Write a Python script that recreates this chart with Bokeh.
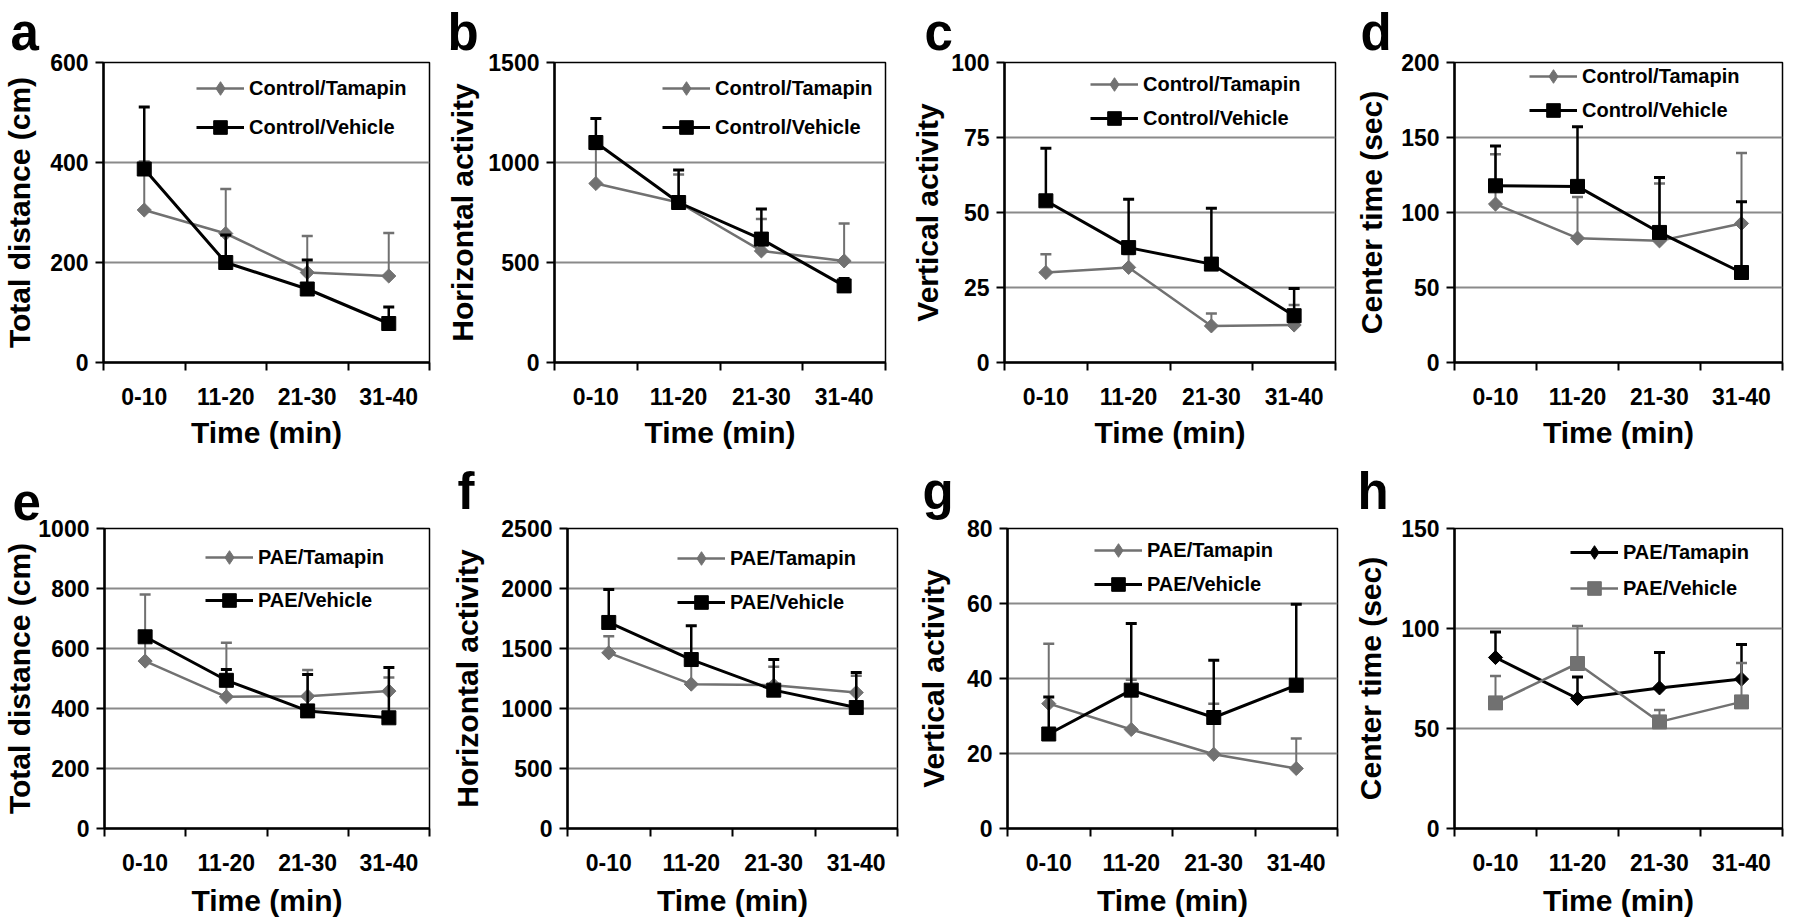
import math
from bokeh.plotting import figure
from bokeh.models import FixedTicker, Legend, LegendItem, Range1d
from bokeh.layouts import row, column
from bokeh.embed import file_html
from bokeh.resources import INLINE

# ---------------- data ----------------
categories = ["0-10", "11-20", "21-30", "31-40"]

# a: Control, total distance (cm)
a_tam = [305, 258, 180, 173]
a_tam_sem = [97, 89, 73, 86]
a_veh = [387, 200, 147, 78]
a_veh_sem = [124, 55, 58, 33]

# b: Control, horizontal activity
b_tam = [895, 800, 558, 508]
b_tam_sem = [172, 140, 159, 187]
b_veh = [1100, 800, 617, 383]
b_veh_sem = [120, 162, 150, 37]

# c: Control, vertical activity
c_tam = [30.0, 31.7, 12.2, 12.5]
c_tam_sem = [6.1, 4.5, 4.1, 6.7]
c_veh = [53.9, 38.3, 32.8, 15.6]
c_veh_sem = [17.5, 16.1, 18.6, 9.1]

# d: Control, center time (sec)
d_tam = [105.6, 82.9, 81.1, 92.7]
d_tam_sem = [33.3, 27.5, 38.2, 46.9]
d_veh = [117.8, 117.4, 86.7, 60.0]
d_veh_sem = [26.6, 39.7, 36.6, 47.1]

# e: PAE, total distance (cm)
e_tam = [558, 439, 441, 458]
e_tam_sem = [222, 180, 87, 45]
e_veh = [639, 494, 392, 369]
e_veh_sem = [12, 36, 121, 168]

# f: PAE, horizontal activity
f_tam = [1464, 1203, 1194, 1133]
f_tam_sem = [139, 190, 153, 140]
f_veh = [1717, 1408, 1153, 1008]
f_veh_sem = [275, 281, 255, 292]

# g: PAE, vertical activity
g_tam = [33.3, 26.4, 19.8, 16.0]
g_tam_sem = [16.0, 13.3, 13.5, 8.0]
g_veh = [25.2, 36.9, 29.6, 38.2]
g_veh_sem = [9.9, 17.8, 15.3, 21.6]

# h: PAE, center time (sec)
h_tam = [85.5, 65.0, 70.3, 74.7]
h_tam_sem = [12.8, 10.8, 17.7, 17.3]
h_veh = [62.8, 82.5, 53.3, 63.3]
h_veh_sem = [13.4, 18.8, 6.0, 19.5]

y_titles = ["Total distance (cm)", "Horizontal activity", "Vertical activity", "Center time (sec)"]
y_ticks_top = [[0, 200, 400, 600], [0, 500, 1000, 1500], [0, 25, 50, 75, 100], [0, 50, 100, 150, 200]]
y_ticks_bot = [[0, 200, 400, 600, 800, 1000], [0, 500, 1000, 1500, 2000, 2500],
               [0, 20, 40, 60, 80], [0, 50, 100, 150]]
x_title = "Time (min)"

# ---------------- styling ----------------
FONT = "Liberation Sans"
GRAY = "#717171"
BLACK = "#000000"
GRID = "#8a8a8a"


def make_panel(letter, ylabel, yticks, tam, tam_sem, veh, veh_sem, names, colors, markers,
               width, height, bl, br, bt, bb, ylab_standoff, xlab_standoff, xtick_standoff,
               leg_x, leg_y, leg_sp, let_dx, let_standoff):
    p = figure(width=width, height=height, output_backend="svg", toolbar_location=None,
               x_range=Range1d(0, len(categories)), y_range=Range1d(yticks[0], yticks[-1]),
               min_border_left=bl, min_border_right=br, min_border_top=bt, min_border_bottom=bb)
    p.background_fill_color = "white"
    p.border_fill_color = "white"
    p.outline_line_color = "black"
    p.outline_line_width = 1.5

    # panel letter
    p.title.text = letter
    p.title.align = "left"
    p.title.vertical_align = "top"
    p.title.offset = let_dx
    p.title.standoff = let_standoff
    p.title.text_font = FONT
    p.title.text_font_style = "bold"
    p.title.text_font_size = "51px"
    p.title.text_color = "black"

    xs = [i + 0.5 for i in range(len(categories))]

    # axes
    xa = p.xaxis[0]
    xa.ticker = FixedTicker(ticks=xs, minor_ticks=list(range(len(categories) + 1)))
    xa.major_label_overrides = {x: c for x, c in zip(xs, categories)}
    xa.major_tick_out = 0
    xa.major_tick_in = 0
    xa.minor_tick_out = 8
    xa.minor_tick_in = 0
    xa.minor_tick_line_color = "black"
    xa.minor_tick_line_width = 2
    xa.axis_line_width = 2.5
    xa.axis_line_color = "black"
    xa.major_label_text_font = FONT
    xa.major_label_text_font_style = "bold"
    xa.major_label_text_font_size = "23px"
    xa.major_label_text_color = "black"
    xa.major_label_standoff = xtick_standoff
    xa.axis_label = x_title
    xa.axis_label_text_font = FONT
    xa.axis_label_text_font_style = "bold"
    xa.axis_label_text_font_size = "30px"
    xa.axis_label_text_color = "black"
    xa.axis_label_standoff = xlab_standoff

    ya = p.yaxis[0]
    ya.ticker = FixedTicker(ticks=yticks, minor_ticks=[])
    ya.major_tick_out = 8
    ya.major_tick_in = 0
    ya.major_tick_line_width = 2
    ya.major_tick_line_color = "black"
    ya.axis_line_width = 2.5
    ya.axis_line_color = "black"
    ya.major_label_text_font = FONT
    ya.major_label_text_font_style = "bold"
    ya.major_label_text_font_size = "23px"
    ya.major_label_text_color = "black"
    ya.major_label_standoff = 7
    ya.axis_label = ylabel
    ya.axis_label_text_font = FONT
    ya.axis_label_text_font_style = "bold"
    ya.axis_label_text_font_size = "30px"
    ya.axis_label_text_color = "black"
    ya.axis_label_standoff = ylab_standoff

    p.xgrid.visible = False
    p.ygrid.ticker = FixedTicker(ticks=yticks[1:-1])
    p.ygrid.grid_line_color = GRID
    p.ygrid.grid_line_width = 2

    items = []
    series = [(tam, tam_sem, colors[0], markers[0], names[0]),
              (veh, veh_sem, colors[1], markers[1], names[1])]
    for vals, sem, col, mk, name in series:
        top = [v + s for v, s in zip(vals, sem)]
        lw = 2.5 if col == BLACK else 2
        p.segment(x0=xs, y0=vals, x1=xs, y1=top, line_color=col, line_width=lw)
        p.scatter(x=xs, y=top, marker="dash", size=11, line_color=col, line_width=lw + 0.5)
        ln = p.line(x=xs, y=vals, line_color=col, line_width=lw + 0.5)
        if mk == "diamond":
            # diamond symbol used by the legend (sits inside the rotated square below)
            sym = p.scatter(x=xs, y=vals, marker="diamond", size=12, fill_color=col,
                            line_color=col, line_width=1)
            p.scatter(x=xs, y=vals, marker="square", angle=math.pi / 4, size=10,
                      fill_color=col, line_color=col, line_width=1)
        else:
            sym = p.scatter(x=xs, y=vals, marker="square", size=14,
                            fill_color=col, line_color=col, line_width=1)
        items.append(LegendItem(label=name, renderers=[ln, sym]))

    leg = Legend(items=items, location=(leg_x, leg_y), orientation="vertical",
                 spacing=leg_sp, padding=0, margin=0, glyph_width=48, glyph_height=34,
                 label_height=34, label_standoff=5, label_text_font=FONT,
                 label_text_font_style="bold", label_text_font_size="20px",
                 label_text_color="black", border_line_color=None,
                 background_fill_alpha=0)
    p.add_layout(leg)
    return p


top_names = ["Control/Tamapin", "Control/Vehicle"]
bot_names = ["PAE/Tamapin", "PAE/Vehicle"]
gb = [GRAY, BLACK]
bg = [BLACK, GRAY]
mk = ["diamond", "square"]

TH, TBT, TBB = 452, 62, 90      # top row: height, border top, border bottom
BH, BBT, BBB = 467, 76, 91      # bottom row
TS, BS = 0, 14                  # title standoff per row

pa = make_panel("a", y_titles[0], y_ticks_top[0], a_tam, a_tam_sem, a_veh, a_veh_sem, top_names, gb, mk,
                440, TH, 99, 11, TBT, TBB, 11, 8, 17, 93, 218, 5, -93, TS)
pb = make_panel("b", y_titles[1], y_ticks_top[1], b_tam, b_tam_sem, b_veh, b_veh_sem, top_names, gb, mk,
                450, TH, 114, 5, TBT, TBB, 6, 8, 17, 108, 218, 5, -107, TS)
pc = make_panel("c", y_titles[2], y_ticks_top[2], c_tam, c_tam_sem, c_veh, c_veh_sem, top_names, gb, mk,
                450, TH, 114, 5, TBT, TBB, 4, 8, 17, 86, 227, 0, -80, TS)
pd = make_panel("d", y_titles[3], y_ticks_top[3], d_tam, d_tam_sem, d_veh, d_veh_sem, top_names, gb, mk,
                444, TH, 114, 2, TBT, TBB, 10, 8, 17, 75, 235, 0, -94, TS)
pe = make_panel("e", y_titles[0], y_ticks_bot[0], e_tam, e_tam_sem, e_veh, e_veh_sem, bot_names, gb, mk,
                440, BH, 99, 11, BBT, BBB, -1, 10, 17, 101, 211, 9, -92, BS)
pf = make_panel("f", y_titles[1], y_ticks_bot[1], f_tam, f_tam_sem, f_veh, f_veh_sem, bot_names, gb, mk,
                459, BH, 127, 2, BBT, BBB, 14, 10, 17, 110, 209, 10, -110, BS)
pg = make_panel("g", y_titles[2], y_ticks_bot[2], g_tam, g_tam_sem, g_veh, g_veh_sem, bot_names, gb, mk,
                443, BH, 108, 5, BBT, BBB, 14, 10, 17, 87, 227, 0, -85, BS)
ph = make_panel("h", y_titles[3], y_ticks_bot[3], h_tam, h_tam_sem, h_veh, h_veh_sem, bot_names, bg, mk,
                442, BH, 112, 2, BBT, BBB, 11, 10, 17, 116, 223, 2, -97, BS)

layout = column(row(pa, pb, pc, pd, spacing=0), row(pe, pf, pg, ph, spacing=0), spacing=0)

open("out.html", "w").write(file_html(layout, INLINE))
